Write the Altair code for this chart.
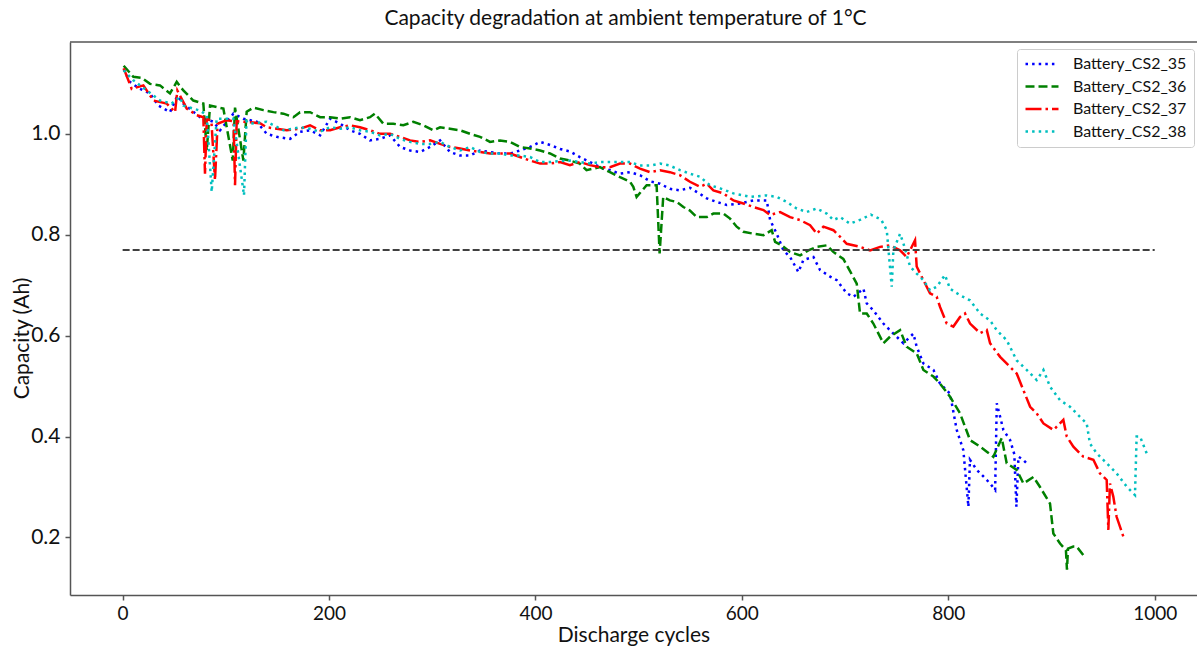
import altair as alt
import pandas as pd

SERIES = ["Battery_CS2_35", "Battery_CS2_36", "Battery_CS2_37", "Battery_CS2_38"]
COLORS = ["#0000ff", "#008000", "#ff0000", "#00bfbf"]
DASHES = [[2.5, 4.1], [9, 4], [16, 4, 2.5, 4], [2.5, 4.1]]

cs35_cycles = [1, 7, 16, 26.5, 34.6, 45.9, 53, 58.8, 75, 87.9, 94.4, 107.3, 117, 129.9, 139.6, 149.3,
               162.2, 171.9, 181.6, 191.3, 201, 210.7, 220.3, 230, 239.7, 249.4, 259.1, 268.8, 278.5,
               288.2, 297.9, 307.6, 317.2, 326.9, 336.6, 346.3, 356, 365.7, 375.4, 385, 394.8, 404.5,
               414.1, 423.8, 433.5, 443, 452.8, 462.5, 472.2, 481.9, 491.6, 501.3, 511, 520.7, 530.3,
               540, 549.7, 559.4, 566, 575.7, 585.4, 598.3, 611.2, 624.1, 627.4, 633.8, 640.3, 646.7,
               654.8, 659.6, 669.3, 675.8, 685.5, 692, 701.6, 708.1, 717.8, 721, 727.4, 737.1, 746.8,
               756.5, 766.2, 769.4, 775.9, 785.6, 792, 801.7, 808.2, 814.6, 819.5, 821, 827.6, 834,
               840.5, 845.4, 847, 853.4, 859.9, 864, 866, 868, 872, 876]
cs35_caps = [1.128, 1.103, 1.09, 1.080, 1.056, 1.043, 1.075, 1.060, 1.033, 1.024, 1.007, 1.040, 1.030,
             1.024, 1.0, 0.994, 0.990, 1.004, 1.007, 0.997, 1.030, 1.020, 1.007, 1.0, 0.987, 0.990,
             0.997, 0.974, 0.967, 0.964, 0.974, 0.987, 0.964, 0.957, 0.957, 0.967, 0.964, 0.961, 0.961,
             0.967, 0.974, 0.984, 0.978, 0.970, 0.965, 0.954, 0.944, 0.934, 0.928, 0.921, 0.924, 0.918,
             0.906, 0.901, 0.891, 0.888, 0.893, 0.881, 0.872, 0.865, 0.859, 0.862, 0.868, 0.868, 0.829,
             0.802, 0.769, 0.756, 0.726, 0.750, 0.756, 0.730, 0.717, 0.710, 0.684, 0.677, 0.693, 0.664,
             0.650, 0.624, 0.604, 0.585, 0.604, 0.578, 0.545, 0.532, 0.505, 0.485, 0.413, 0.373, 0.261,
             0.354, 0.334, 0.321, 0.307, 0.294, 0.466, 0.413, 0.393, 0.365, 0.261, 0.360, 0.355, 0.347]

cs36_cycles = [1, 10.4, 18.5, 26.5, 36.2, 45.9, 52.4, 58.8, 68.5, 78.2, 81.5, 84.7, 97.6, 106.7, 108.9,
               117, 120.2, 126.7, 136.4, 146.1, 155.8, 165.5, 171.9, 181.6, 191.3, 201, 210.7, 220.3,
               230, 239.7, 244.5, 252.6, 262.3, 272, 281.7, 291.4, 301.1, 307.6, 317.2, 326.9, 336.6,
               346.3, 356, 365.7, 375.4, 385, 394.8, 404.5, 414.1, 423.8, 433.5, 443, 449.5, 462.5,
               472.2, 481.9, 491.6, 494.8, 498, 507.7, 517.4, 520.3, 523.8, 530.3, 536.8, 543.3, 549.7,
               556.3, 566, 572.4, 582.1, 588.6, 595, 601.5, 611.2, 620.9, 628.9, 632.2, 638.6, 646.7,
               656.4, 664.4, 672.5, 682.2, 688.6, 698.3, 704.8, 711.3, 714.5, 721, 727.4, 737.1, 743.6,
               753.3, 759.7, 769.4, 775.9, 785.6, 792, 801.7, 811.4, 821.1, 830.8, 837.3, 843.7, 851.8,
               856.6, 866.3, 872.8, 882.5, 888.9, 898.6, 901.8, 908.3, 914, 915, 916, 921.2, 924.4, 930.9]
cs36_caps = [1.135, 1.113, 1.111, 1.099, 1.096, 1.080, 1.103, 1.086, 1.066, 1.060, 0.967, 1.056, 1.050,
             0.947, 1.052, 0.947, 1.044, 1.052, 1.047, 1.043, 1.040, 1.033, 1.043, 1.043, 1.033, 1.033,
             1.030, 1.033, 1.027, 1.033, 1.040, 1.020, 1.020, 1.017, 1.024, 1.017, 1.007, 1.013, 1.010,
             1.007, 1.0, 0.994, 0.984, 0.987, 0.984, 0.974, 0.971, 0.967, 0.961, 0.951, 0.947, 0.941,
             0.928, 0.934, 0.924, 0.914, 0.905, 0.895, 0.875, 0.898, 0.898, 0.763, 0.875, 0.868, 0.865,
             0.855, 0.848, 0.835, 0.835, 0.842, 0.842, 0.832, 0.816, 0.806, 0.802, 0.799, 0.809, 0.786,
             0.779, 0.766, 0.759, 0.769, 0.776, 0.779, 0.766, 0.752, 0.728, 0.703, 0.644, 0.644, 0.624,
             0.585, 0.598, 0.611, 0.578, 0.565, 0.532, 0.519, 0.505, 0.479, 0.446, 0.393, 0.380, 0.370,
             0.360, 0.397, 0.347, 0.334, 0.307, 0.320, 0.300, 0.267, 0.208, 0.188, 0.175, 0.136, 0.178,
             0.182, 0.182, 0.165]

cs37_cycles = [1, 8.8, 20.1, 29.8, 42.7, 50.8, 53, 62.1, 71.8, 78.2, 79.8, 81.5, 86, 89.5, 92, 100.8,
               107.5, 108.9, 110.5, 123.4, 133.1, 139.6, 149.3, 159, 171.9, 181.6, 191.3, 201, 210.7,
               220.3, 230, 239.7, 249.4, 259.1, 268.8, 278.5, 288.2, 297.9, 307.6, 317.2, 326.9, 336.6,
               346.3, 356, 365.7, 375.4, 385, 394.8, 404.5, 414.1, 423.8, 433.4, 443, 452.8, 462.5,
               472.2, 481.9, 491.6, 501.3, 511, 520.7, 530.3, 540, 549.7, 559.5, 565.9, 572.4, 582.1,
               591.8, 601.5, 611.2, 620.9, 627.4, 637.1, 646.7, 656.4, 666.1, 672.6, 679, 688.7, 695.2,
               701.6, 714.5, 724.2, 733.9, 743.6, 753.3, 759.7, 767.8, 769.4, 775.9, 782.3, 788.8, 792,
               798.5, 804.9, 811.4, 816.2, 821.1, 830.8, 837.3, 840.5, 850.2, 859.9, 866.3, 872.8, 879.3,
               885.7, 892.2, 901.9, 911.5, 914.8, 921.2, 930.9, 940.6, 947, 953.5, 955.1, 956.7, 959.9,
               963.1, 969.6]
cs37_caps = [1.13, 1.089, 1.096, 1.066, 1.060, 1.043, 1.086, 1.050, 1.037, 1.033, 0.921, 1.03, 1.025,
             0.908, 1.02, 1.027, 1.025, 0.898, 1.025, 1.023, 1.021, 1.013, 1.010, 1.007, 1.010, 1.017,
             1.007, 1.007, 1.013, 1.017, 1.013, 1.007, 1.0, 1.0, 0.994, 0.987, 0.984, 0.987, 0.980, 0.974,
             0.971, 0.967, 0.964, 0.961, 0.961, 0.961, 0.954, 0.947, 0.941, 0.941, 0.944, 0.938, 0.944,
             0.938, 0.934, 0.934, 0.941, 0.941, 0.931, 0.924, 0.928, 0.924, 0.918, 0.905, 0.895, 0.901,
             0.888, 0.882, 0.868, 0.862, 0.855, 0.849, 0.839, 0.845, 0.835, 0.829, 0.819, 0.802, 0.816,
             0.809, 0.796, 0.782, 0.776, 0.769, 0.776, 0.779, 0.769, 0.756, 0.789, 0.737, 0.710, 0.684,
             0.677, 0.657, 0.624, 0.618, 0.637, 0.644, 0.624, 0.605, 0.611, 0.585, 0.558, 0.538, 0.525,
             0.492, 0.459, 0.446, 0.426, 0.413, 0.433, 0.400, 0.380, 0.360, 0.354, 0.327, 0.314, 0.215,
             0.307, 0.281, 0.241, 0.202]

cs38_cycles = [1, 10.4, 23.3, 36.2, 47.5, 55.6, 58.8, 75, 81.5, 86.3, 91.1, 107.3, 117.6, 120, 123.4,
               139.6, 155.8, 171.9, 181.6, 191.3, 201, 210.7, 220.3, 230, 239.7, 249.4, 259.1, 268.8,
               278.5, 288.2, 297.9, 307.6, 317.2, 326.9, 336.6, 346.3, 356, 365.7, 375.4, 385, 394.8,
               404.5, 414.1, 423.8, 433.5, 443, 452.8, 462.5, 472.2, 481.9, 491.6, 501.3, 511, 520.7,
               530.3, 540, 549.7, 559.4, 569.2, 578.9, 591.8, 608, 624.1, 633.8, 643.5, 653.2, 662.8,
               672.5, 682.2, 688.7, 695.2, 704.8, 715, 725, 735, 740.4, 745.2, 746.8, 753.3, 756.5, 763,
               769.4, 775.9, 782.3, 788.8, 796.8, 801.7, 811.4, 821.1, 830.8, 840.5, 846.9, 856.6, 866.3,
               876, 885.7, 892.2, 898.6, 908.3, 918, 927.6, 934.1, 937.3, 943.8, 953.5, 963.1, 972.8,
               980.9, 982.5, 985.8, 992.2]
cs38_caps = [1.126, 1.106, 1.086, 1.066, 1.060, 1.073, 1.056, 1.046, 1.037, 0.885, 1.030, 1.030, 0.878,
             1.025, 1.020, 1.024, 1.007, 1.013, 1.010, 1.004, 1.013, 1.010, 1.013, 1.007, 1.004, 0.997,
             1.0, 0.990, 0.984, 0.980, 0.980, 0.984, 0.974, 0.967, 0.974, 0.964, 0.961, 0.961, 0.957,
             0.957, 0.954, 0.944, 0.944, 0.946, 0.947, 0.944, 0.941, 0.944, 0.944, 0.944, 0.944, 0.937,
             0.937, 0.941, 0.937, 0.928, 0.921, 0.915, 0.898, 0.892, 0.882, 0.875, 0.878, 0.875, 0.865,
             0.852, 0.845, 0.852, 0.842, 0.829, 0.835, 0.822, 0.83, 0.84, 0.83, 0.809, 0.697, 0.769,
             0.802, 0.783, 0.737, 0.723, 0.710, 0.690, 0.697, 0.720, 0.693, 0.680, 0.670, 0.644, 0.630,
             0.611, 0.591, 0.551, 0.532, 0.512, 0.532, 0.499, 0.472, 0.459, 0.439, 0.426, 0.386, 0.367,
             0.347, 0.327, 0.301, 0.284, 0.400, 0.400, 0.367]

threshold_cycles = [0, 1000]
threshold_caps = [0.77, 0.77]

x_ticks = [0, 200, 400, 600, 800, 1000]
y_ticks = [0.2, 0.4, 0.6, 0.8, 1.0]

rows = []
for name, cyc, cap in zip(SERIES, [cs35_cycles, cs36_cycles, cs37_cycles, cs38_cycles],
                          [cs35_caps, cs36_caps, cs37_caps, cs38_caps]):
    for i, (c, v) in enumerate(zip(cyc, cap)):
        rows.append({"battery": name, "cycle": c, "capacity": v, "order": i})
df = pd.DataFrame(rows)
df_th = pd.DataFrame({"cycle": threshold_cycles, "capacity": threshold_caps})

W, H = 1127, 553
FONT = "Lato"
x_scale = alt.Scale(domain=[-51, 1041], nice=False, zero=False)
y_scale = alt.Scale(domain=[0.086, 1.182], nice=False, zero=False)

x_enc = alt.X("cycle:Q", scale=x_scale,
              axis=alt.Axis(values=x_ticks, title="Discharge cycles", format="d",
                            labelFontSize=19, labelPadding=4, titlePadding=1))
y_enc = alt.Y("capacity:Q", scale=y_scale,
              axis=alt.Axis(values=y_ticks, title="Capacity (Ah)", format=".1f",
                            labelFontSize=21, labelPadding=5, titleX=-48, titleY=296,
                            titleBaseline="middle"))

lines = alt.Chart(df).mark_line(strokeWidth=2.5).encode(
    x=x_enc,
    y=y_enc,
    color=alt.Color("battery:N", scale=alt.Scale(domain=SERIES, range=COLORS),
                    legend=alt.Legend(title=None)),
    strokeDash=alt.StrokeDash("battery:N", scale=alt.Scale(domain=SERIES, range=DASHES),
                              legend=alt.Legend(title=None)),
    order="order:Q",
)

threshold = alt.Chart(df_th).mark_line(strokeWidth=2, strokeDash=[7, 3], color="#404040").encode(
    x="cycle:Q", y="capacity:Q"
)

top_frame = alt.Chart(pd.DataFrame({"k": [0]})).mark_rule(color="#555555", strokeWidth=1.5).encode(
    x=alt.value(0), x2=alt.value(W), y=alt.value(0)
)

chart = alt.layer(lines, threshold, top_frame).properties(
    width=W, height=H,
    autosize=alt.AutoSizeParams(type="none"),
    padding={"left": 70, "top": 42, "right": 0, "bottom": 51},
    title=alt.TitleParams("Capacity degradation at ambient temperature of 1°C", font=FONT,
                          fontSize=21, fontWeight="normal", anchor="middle", offset=12,
                          dx=-8, color="#111111"),
    background="white",
).configure_view(stroke=None).configure_axis(
    grid=False, labelFont=FONT, titleFont=FONT, titleFontSize=21,
    titleFontWeight="normal", labelColor="#111111", titleColor="#111111",
    domainColor="#555555", tickColor="#555555", domainWidth=1.5, tickWidth=1.5, tickSize=5,
).configure_legend(
    orient="none", legendX=947, legendY=7, labelFont=FONT, labelFontSize=16, labelColor="#111111",
    strokeColor="#cccccc", fillColor="white", padding=7, cornerRadius=3, symbolType="stroke",
    symbolSize=1089, symbolStrokeWidth=2.5, clipHeight=16, rowPadding=6.5, labelOffset=13,
)

chart.save("out.html", embed_options={"renderer": "svg", "actions": False})
